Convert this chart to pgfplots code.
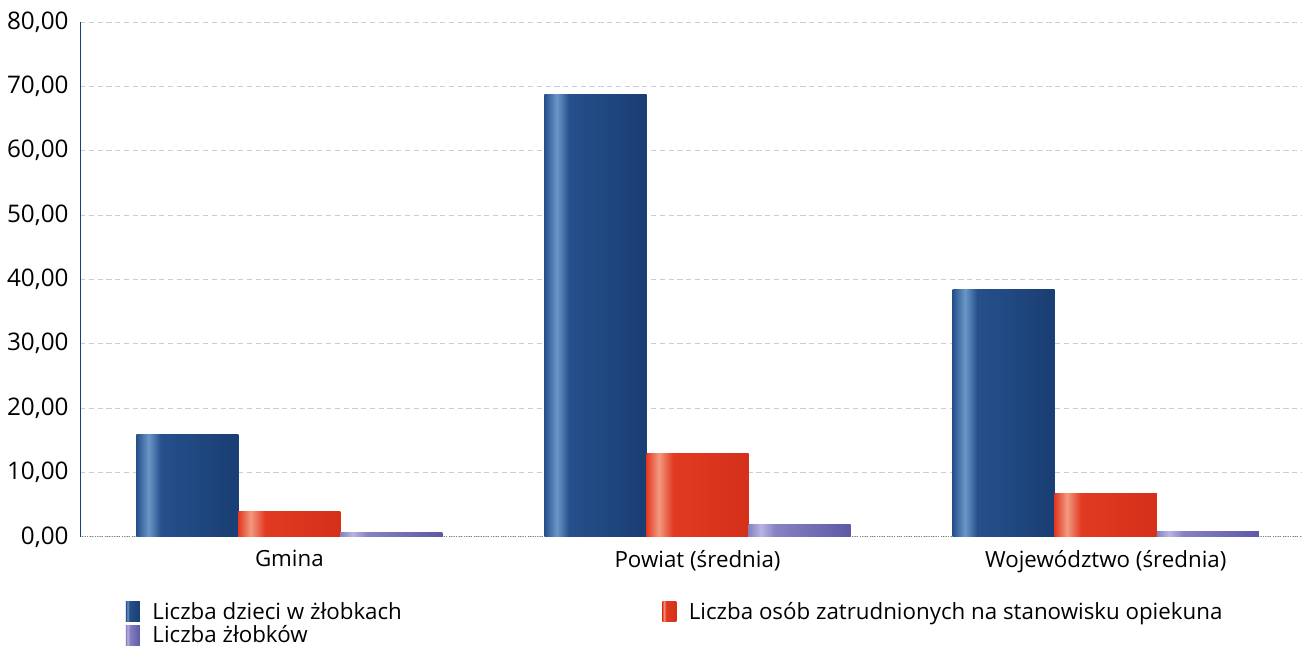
\documentclass[border=0pt]{standalone}
\usepackage{pgfplots}
\pgfplotsset{compat=1.18}
\usepackage{fontspec}
\setmainfont{Open Sans}

\definecolor{barblue}{HTML}{26508C}
\definecolor{barbluelt}{HTML}{6A97C8}
\definecolor{barbluedk}{HTML}{1A3F74}
\definecolor{barred}{HTML}{E23A22}
\definecolor{barredlt}{HTML}{F29A80}
\definecolor{barreddk}{HTML}{D4301A}
\definecolor{barpur}{HTML}{8682C2}
\definecolor{barpurlt}{HTML}{B9B4E0}
\definecolor{barpurdk}{HTML}{5F5AA6}
\definecolor{gridc}{HTML}{C5CCDA}

% light vertical streak near the left edge of each bar
\pgfdeclarehorizontalshading{bluebar}{100bp}{color(0bp)=(barblue); color(25bp)=(barblue); color(31bp)=(barbluelt); color(37bp)=(barblue); color(72bp)=(barbluedk); color(100bp)=(barbluedk)}
\pgfdeclarehorizontalshading{redbar}{100bp}{color(0bp)=(barred); color(25bp)=(barred); color(31bp)=(barredlt); color(38bp)=(barred); color(75bp)=(barreddk); color(100bp)=(barreddk)}
\pgfdeclarehorizontalshading{purbar}{100bp}{color(0bp)=(barpur); color(25bp)=(barpur); color(31bp)=(barpurlt); color(38bp)=(barpur); color(74bp)=(barpurdk); color(100bp)=(barpurdk)}

\pgfplotsset{
  sblue/.style={draw=none, shade, shading=bluebar},
  sred/.style={draw=none, shade, shading=redbar},
  spur/.style={draw=none, shade, shading=purbar},
}

\begin{document}
\begin{tikzpicture}
  \begin{axis}[
      name=ax,
      scale only axis,
      width=24.44cm,
      height=10.3cm,
      ybar,
      bar width=0.25,
      xmin=-0.513, xmax=2.48,
      ymin=0, ymax=80,
      ytick={0,10,...,80},
      xtick={0,1,2},
      xticklabels={Gmina, Powiat (średnia), Województwo (średnia)},
      major tick length=0pt,
      axis lines*=left,
      x axis line style={draw=gray, densely dotted, -},
      y axis line style={draw=barbluedk, -},
      ymajorgrids,
      major grid style={draw=gridc, densely dashed, line width=0.4pt},
      font=\fontsize{12.7}{15}\selectfont,
      yticklabel style={font=\fontsize{13.8}{15}\selectfont, xshift=-3pt},
      /pgf/number format/fixed,
      /pgf/number format/fixed zerofill,
      /pgf/number format/precision=2,
      /pgf/number format/use comma,
      /pgf/number format/assume math mode=true,
      xticklabel style={yshift=-4pt},
      legend columns=2,
      legend cell align=left,
      legend style={at={(axis description cs:0.033,-0.113)}, anchor=north west, draw=none, fill=none,
                    font=\fontsize{12.7}{15}\selectfont,
                    /tikz/every even column/.append style={column sep=5.14cm},
                    row sep=-2pt},
      legend image code/.code={\path[#1, draw=none] (0cm,-0.19cm) rectangle (0.28cm,0.21cm);
                               \path (0.28cm,0) -- (0.46cm,0);},
    ]
    \addlegendimage{sblue}
    \addlegendimage{sred}
    \addlegendimage{spur}
    % one bar per plot so each bar gets its own shading
    \addplot[sblue, bar shift=-0.25, forget plot] coordinates {(0,15.9)};
    \addplot[sblue, bar shift=-0.25, forget plot] coordinates {(1,68.7)};
    \addplot[sblue, bar shift=-0.25, forget plot] coordinates {(2,38.4)};
    \addplot[sred, bar shift=0, forget plot] coordinates {(0,3.9)};
    \addplot[sred, bar shift=0, forget plot] coordinates {(1,13.0)};
    \addplot[sred, bar shift=0, forget plot] coordinates {(2,6.8)};
    \addplot[spur, bar shift=0.25, forget plot] coordinates {(0,0.75)};
    \addplot[spur, bar shift=0.25, forget plot] coordinates {(1,1.9)};
    \addplot[spur, bar shift=0.25, forget plot] coordinates {(2,0.8)};
    \legend{Liczba dzieci w żłobkach, Liczba osób zatrudnionych na stanowisku opiekuna, Liczba żłobków}
  \end{axis}
  \path ([shift={(-1.6cm,-2.22cm)}]ax.south west) rectangle ([shift={(0,0.44cm)}]ax.north east);
\end{tikzpicture}
\end{document}
